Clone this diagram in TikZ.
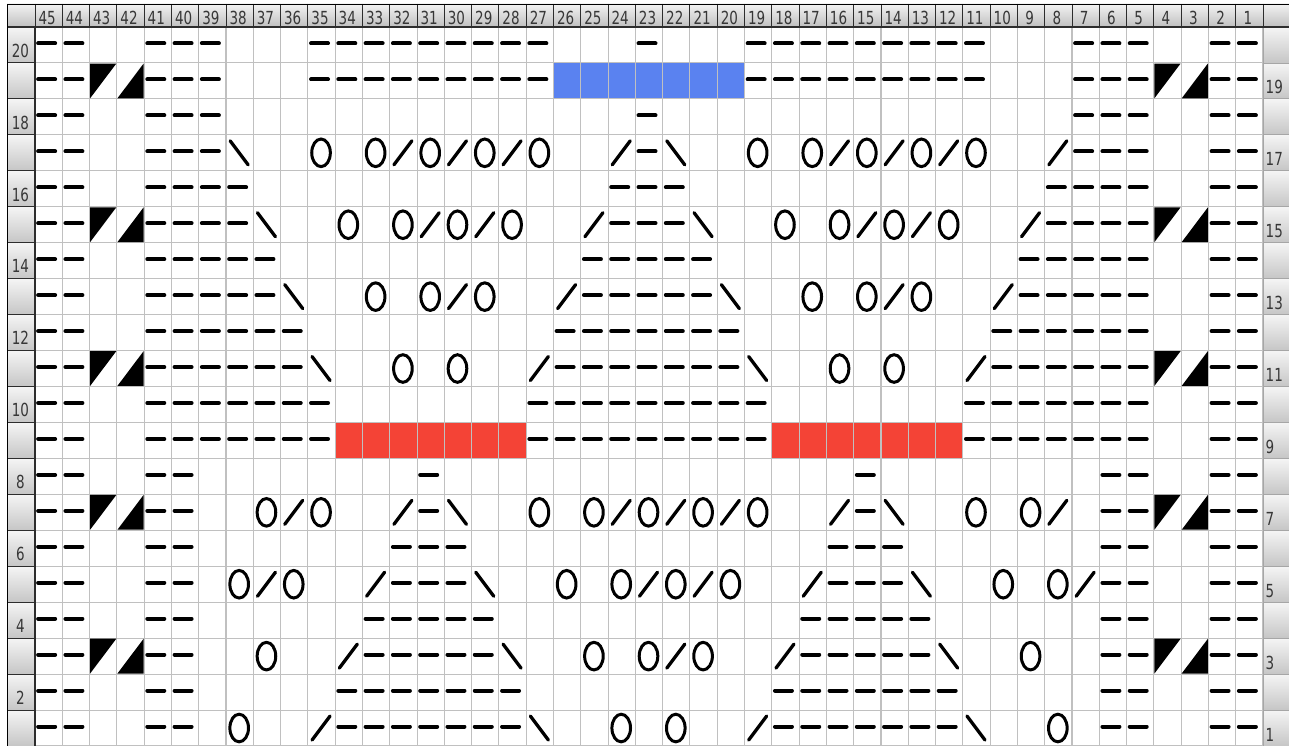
\documentclass[tikz,border=0pt]{standalone}
\usepackage{fontspec}
\newfontfamily\numfont[FakeStretch=0.75]{DejaVu Sans}
\definecolor{kblue}{RGB}{90,130,240}
\definecolor{kred}{RGB}{244,67,54}
\definecolor{kgrid}{RGB}{192,192,192}
\definecolor{kdark}{RGB}{45,45,45}
\definecolor{ktext}{RGB}{55,55,55}
\newcommand\kX[1]{35+(45.5-#1)*27.289}
\newcommand\kY[1]{27+(20.5-#1)*35.95}
\tikzset{
  kdash/.style={line width=4pt, line cap=round, black},
  kring/.style={line width=3pt, black},
  kslash/.style={line width=3.3pt, line cap=round, black},
  kgridline/.style={kgrid, line width=1.1pt},
  klabel/.style={font=\numfont\fontsize{18}{18}\selectfont, text=ktext, inner sep=0pt},
  kcell/.style={top color=gray!8, bottom color=gray!45},
}
\newcommand\kD[2]{\foreach \kc in {#2}{\draw[kdash] ({\kX{\kc}-10.5},{\kY{#1}-1.5}) -- ++(17,0);}}
\newcommand\kO[2]{\foreach \kc in {#2}{\draw[kring] ({\kX{\kc}-0.5},{\kY{#1}}) ellipse [x radius=9.3pt, y radius=13.8pt];}}
\newcommand\kL[2]{\foreach \kc in {#2}{\draw[kslash] ({\kX{\kc}-9.5},{\kY{#1}+12}) -- ({\kX{\kc}+8.5},{\kY{#1}-12});}}
\newcommand\kR[2]{\foreach \kc in {#2}{\draw[kslash] ({\kX{\kc}-9.5},{\kY{#1}-12}) -- ({\kX{\kc}+8.5},{\kY{#1}+12});}}
\newcommand\kA[2]{\foreach \kc in {#2}{\fill[black] ({\kX{\kc}-13.1},{\kY{#1}-17.4}) -- ({\kX{\kc}+13.1},{\kY{#1}-17.4}) -- ({\kX{\kc}-13.1},{\kY{#1}+17.4}) -- cycle;}}
\newcommand\kB[2]{\foreach \kc in {#2}{\fill[black] ({\kX{\kc}+13.1},{\kY{#1}-17.4}) -- ({\kX{\kc}+13.1},{\kY{#1}+17.4}) -- ({\kX{\kc}-13.1},{\kY{#1}+17.4}) -- cycle;}}
\newcommand\kF[3]{\foreach \kc in {#3}{\fill[#2] ({\kX{\kc}-13.645},{\kY{#1}-17.975}) rectangle ++(27.289,35.95);}}
\begin{document}
\begin{tikzpicture}[x=1pt,y=-1pt]
\useasboundingbox (0,0) rectangle (1289,746);
\fill[white] (0,0) rectangle (1289,746);
% coloured cells
\kF{19}{kblue}{26,25,24,23,22,21,20}
\kF{9}{kred}{34,33,32,31,30,29,28,18,17,16,15,14,13,12}
% grid
\foreach \k in {0,...,45} \draw[kgridline] ({35+\k*27.289},27) -- ({35+\k*27.289},746);
\foreach \k in {0,...,20} \draw[kgridline] (35,{27+\k*35.95}) -- (1263,{27+\k*35.95});
% header
\shade[top color=gray!10, bottom color=gray!50] (7,4) rectangle (1289,27);
\foreach \k in {0,...,46} \draw[kdark, line width=0.9pt] ({35+\k*27.289},4) -- ({35+\k*27.289},27);
\foreach \kc in {1,...,45} \node[klabel, anchor=base] (h\kc) at ({\kX{\kc}-1.5},25) {\kc};
% side label columns
\foreach \r in {1,...,20} {
  \shade[kcell] (7,{27+(20-\r)*35.95}) rectangle (35,{27+(21-\r)*35.95});
  \shade[kcell] (1263,{27+(20-\r)*35.95}) rectangle (1289,{27+(21-\r)*35.95});
  \draw[kdark, line width=1pt] (7,{27+(21-\r)*35.95}) -- (35,{27+(21-\r)*35.95});
  \draw[gray!70, line width=0.8pt] (1263,{27+(21-\r)*35.95}) -- (1289,{27+(21-\r)*35.95});
}
\foreach \r in {2,4,...,20} \node[klabel, anchor=base] (l\r) at (20.5,{27+(21-\r)*35.95-5.7}) {\r};
\foreach \r in {1,3,...,19} \node[klabel, anchor=base west] (r\r) at (1265.5,{27+(21-\r)*35.95-5}) {\r};
\draw[kdark, line width=1.2pt] (35,27) -- (35,746);
\draw[gray!70, line width=1pt] (1263,27) -- (1263,746);
\draw[kdark, line width=1.2pt] (7,27) -- (1289,27);
\draw[black, line width=1.5pt] (7.5,746) -- (7.5,4.5) -- (1289,4.5);
% chart symbols
\kD{20}{45,44,41,40,39,35,34,33,32,31,30,29,28,27,23,19,18,17,16,15,14,13,12,11,7,6,5,2,1}
\kD{19}{45,44,41,40,39,35,34,33,32,31,30,29,28,27,19,18,17,16,15,14,13,12,11,7,6,5,2,1}
\kA{19}{43,4} \kB{19}{42,3}
\kD{18}{45,44,41,40,39,23,7,6,5,2,1}
\kD{17}{45,44,41,40,39,23,7,6,5,2,1}
\kR{17}{38,22}
\kO{17}{35,33,31,29,27,19,17,15,13,11}
\kL{17}{32,30,28,24,16,14,12,8}
\kD{16}{45,44,41,40,39,38,24,23,22,8,7,6,5,2,1}
\kD{15}{45,44,41,40,39,38,24,23,22,8,7,6,5,2,1}
\kA{15}{43,4} \kB{15}{42,3}
\kR{15}{37,21}
\kO{15}{34,32,30,28,18,16,14,12}
\kL{15}{31,29,25,15,13,9}
\kD{14}{45,44,41,40,39,38,37,25,24,23,22,21,9,8,7,6,5,2,1}
\kD{13}{45,44,41,40,39,38,37,25,24,23,22,21,9,8,7,6,5,2,1}
\kR{13}{36,20}
\kO{13}{33,31,29,17,15,13}
\kL{13}{30,26,14,10}
\kD{12}{45,44,41,40,39,38,37,36,26,25,24,23,22,21,20,10,9,8,7,6,5,2,1}
\kD{11}{45,44,41,40,39,38,37,36,26,25,24,23,22,21,20,10,9,8,7,6,5,2,1}
\kA{11}{43,4} \kB{11}{42,3}
\kR{11}{35,19}
\kO{11}{32,30,16,14}
\kL{11}{27,11}
\kD{10}{45,44,41,40,39,38,37,36,35,27,26,25,24,23,22,21,20,19,11,10,9,8,7,6,5,2,1}
\kD{9}{45,44,41,40,39,38,37,36,35,27,26,25,24,23,22,21,20,19,11,10,9,8,7,6,5,2,1}
\kD{8}{45,44,41,40,31,15,6,5,2,1}
\kD{7}{45,44,41,40,31,15,6,5,2,1}
\kA{7}{43,4} \kB{7}{42,3}
\kO{7}{37,35,27,25,23,21,19,11,9}
\kL{7}{36,32,24,22,20,16,8}
\kR{7}{30,14}
\kD{6}{45,44,41,40,32,31,30,16,15,14,6,5,2,1}
\kD{5}{45,44,41,40,32,31,30,16,15,14,6,5,2,1}
\kO{5}{38,36,26,24,22,20,10,8}
\kL{5}{37,33,23,21,17,7}
\kR{5}{29,13}
\kD{4}{45,44,41,40,33,32,31,30,29,17,16,15,14,13,6,5,2,1}
\kD{3}{45,44,41,40,33,32,31,30,29,17,16,15,14,13,6,5,2,1}
\kA{3}{43,4} \kB{3}{42,3}
\kO{3}{37,25,23,21,9}
\kL{3}{34,22,18}
\kR{3}{28,12}
\kD{2}{45,44,41,40,34,33,32,31,30,29,28,18,17,16,15,14,13,12,6,5,2,1}
\kD{1}{45,44,41,40,34,33,32,31,30,29,28,18,17,16,15,14,13,12,6,5,2,1}
\kO{1}{38,24,22,8}
\kL{1}{35,19}
\kR{1}{27,11}
\end{tikzpicture}
\end{document}
